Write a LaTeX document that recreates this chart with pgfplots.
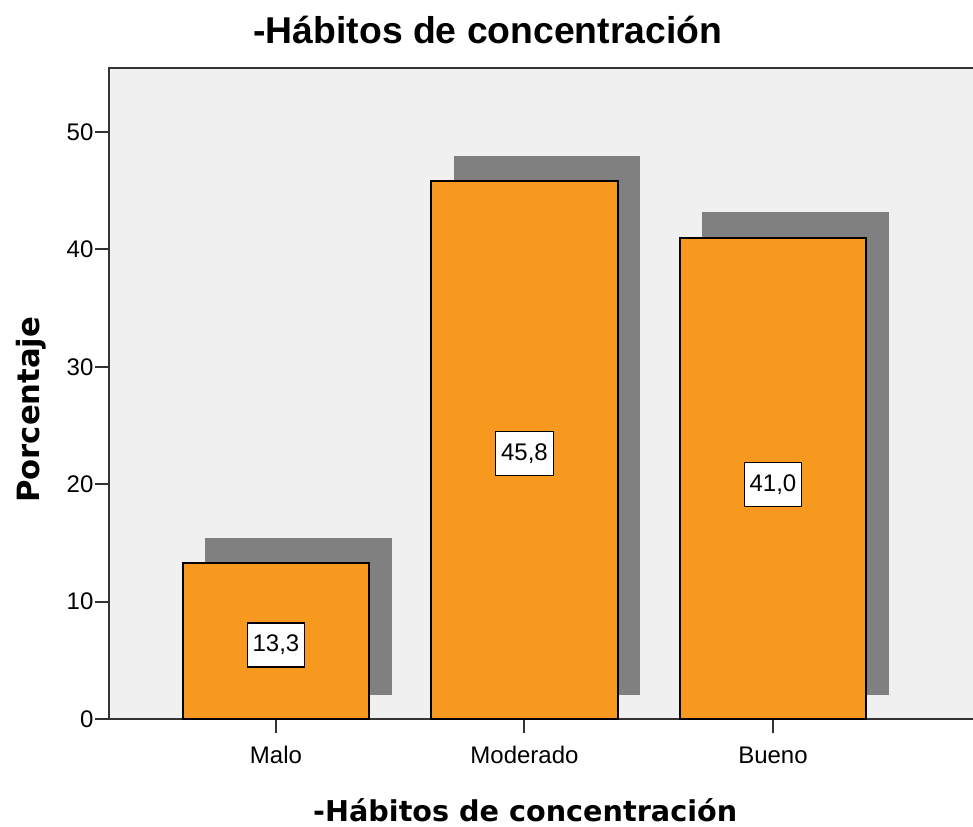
\documentclass[border=0pt]{standalone}
\usepackage{pgfplots}
\pgfplotsset{compat=1.18}
\usepackage{fontspec}
\setmainfont{Liberation Sans}
\newfontfamily\labelfont{DejaVu Sans}
\definecolor{barorange}{RGB}{247,153,30}
\definecolor{shadowgray}{RGB}{128,128,128}
\definecolor{plotbg}{RGB}{240,240,240}
\definecolor{framegray}{RGB}{51,51,51}
\begin{document}
\begin{tikzpicture}
\useasboundingbox (0,0) rectangle (729.75pt,619.5pt);
\begin{axis}[
  at={(81.75pt,80.25pt)}, anchor=south west,
  scale only axis, width=650.25pt, height=488.25pt,
  xmin=-0.672, xmax=2.817, ymin=0, ymax=55.45,
  axis background/.style={fill=plotbg},
  axis line style={draw=framegray, line width=1.5pt},
  xtick={0,1,2}, xticklabels={Malo,Moderado,Bueno},
  ytick={0,10,...,50}, minor tick num=0,
  tick pos=left, tick align=outside, major tick length=10.5pt,
  tick style={draw=framegray, line width=1.5pt},
  /pgf/number format/assume math mode=true,
  ticklabel style={font=\fontsize{18}{22}\selectfont},
  yticklabel style={inner sep=1pt},
  xticklabel style={inner sep=0pt, yshift=-10pt},
  title={-Hábitos de concentración},
  title style={at={(rel axis cs:0.437,1.0256)}, anchor=base,
    font=\bfseries\fontsize{28}{33}\selectfont},
  xlabel={-Hábitos de concentración},
  xlabel style={at={(rel axis cs:0.48,-0.1567)}, anchor=base,
    font=\labelfont\bfseries\fontsize{21.5}{26}\selectfont},
  ylabel={Porcentaje},
  ylabel style={at={(rel axis cs:-0.0807,0.475)}, anchor=base,
    font=\labelfont\bfseries\fontsize{23}{27}\selectfont},
]
% drop shadows behind the bars
\addplot[fill=shadowgray, draw=none, mark=none] coordinates {(-0.284,2.05) (0.466,2.05) (0.466,15.45) (-0.284,15.45)} -- cycle;
\addplot[fill=shadowgray, draw=none, mark=none] coordinates {(0.716,2.05) (1.466,2.05) (1.466,47.95) (0.716,47.95)} -- cycle;
\addplot[fill=shadowgray, draw=none, mark=none] coordinates {(1.716,2.05) (2.466,2.05) (2.466,43.15) (1.716,43.15)} -- cycle;
% bars
\addplot[ybar, bar width=0.75, fill=barorange, draw=black, line width=1.5pt]
  coordinates {(0,13.3) (1,45.8) (2,41.0)};
% value boxes
\addplot[draw=none, mark=none, nodes near coords, point meta=explicit symbolic,
  nodes near coords style={anchor=center, fill=white, draw=black, line width=1pt,
    inner xsep=4pt, inner ysep=0pt, minimum height=33pt,
    font=\fontsize{18}{22}\selectfont}]
  table[row sep=\\, meta=lbl] {x y lbl\\ 0 6.3 13,3\\ 1 22.6 45,8\\ 2 20.0 41,0\\};
\end{axis}
\end{tikzpicture}
\end{document}
